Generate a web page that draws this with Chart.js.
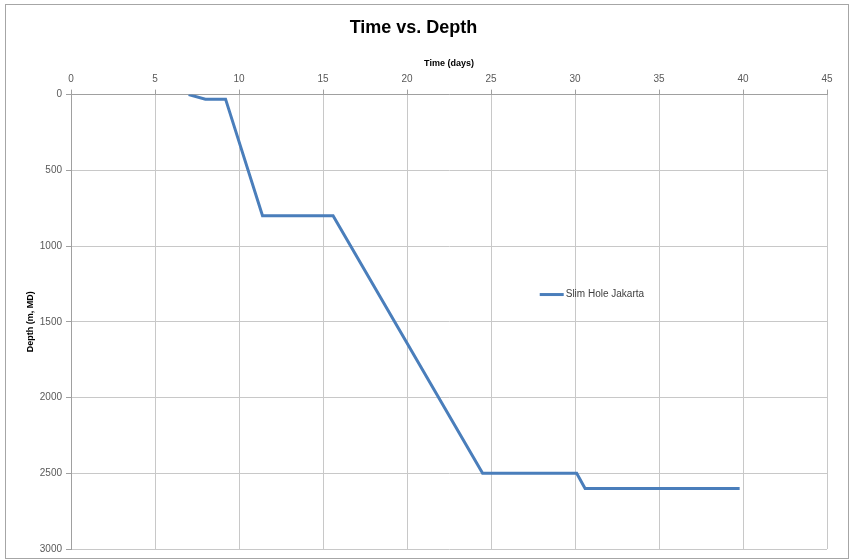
<!DOCTYPE html>
<html>
<head>
<meta charset="utf-8">
<script src="https://cdn.jsdelivr.net/npm/chart.js@4"></script>
<style>
    body { margin: 0; background: #fff; }
    #wrap { position: relative; width: 853px; height: 559px; }
    #frame {
        position: absolute; left: 5px; top: 4px; width: 842px; height: 553px;
        border: 1px solid #a6a6a6; pointer-events: none;
    }
</style>
</head>
<body>
<div id="wrap">
    <canvas id="depthChart" width="853" height="559"></canvas>
    <div id="frame"></div>
</div>
<script>
// Data
const timeDays = [7.0, 8.0, 9.2, 11.4, 15.6, 24.5, 30.1, 30.6, 39.8];
const depthM = [0, 30, 30, 800, 800, 2500, 2500, 2600, 2600];
const seriesName = "Slim Hole Jakarta";

const lineColor = "#4a7ebb";
const gridColor = "#c8c8c8";
const tickColor = "#595959";
const fontFamily = "'Liberation Sans', sans-serif";

// Legend drawn inside the plot area, like the Excel original
const innerLegend = {
    id: "innerLegend",
    afterDraw(chart) {
        const { ctx, chartArea } = chart;
        const x = chartArea.left + chartArea.width * 0.62;
        const y = chartArea.top + chartArea.height * 0.44;
        ctx.save();
        ctx.strokeStyle = lineColor;
        ctx.lineWidth = 3;
        ctx.beginPath();
        ctx.moveTo(x, y);
        ctx.lineTo(x + 24, y);
        ctx.stroke();
        ctx.fillStyle = "#404040";
        ctx.font = "10px " + fontFamily;
        ctx.textBaseline = "middle";
        ctx.fillText(seriesName, x + 26, y);
        ctx.restore();
    },
};

const ctx = document.getElementById("depthChart").getContext("2d");
new Chart(ctx, {
    type: "scatter",
    data: {
        datasets: [
            {
                label: seriesName,
                data: timeDays.map((t, i) => ({ x: t, y: depthM[i] })),
                showLine: true,
                borderColor: lineColor,
                backgroundColor: lineColor,
                borderWidth: 3,
                pointRadius: 0,
                tension: 0,
            },
        ],
    },
    options: {
        responsive: false,
        animation: false,
        layout: { padding: { left: 0, right: 26, top: 0, bottom: 3 } },
        plugins: {
            legend: { display: false },
            tooltip: { enabled: false },
            title: {
                display: true,
                text: "Time vs. Depth",
                color: "#000",
                font: { family: fontFamily, size: 18, weight: "bold" },
                padding: { top: 17, bottom: 6 },
            },
        },
        scales: {
            x: {
                type: "linear",
                position: "top",
                min: 0,
                max: 45,
                ticks: {
                    stepSize: 5,
                    color: tickColor,
                    font: { family: fontFamily, size: 10 },
                    padding: 4,
                    callback: (v) => String(v),
                },
                grid: {
                    color: gridColor,
                    tickColor: "#a0a0a0",
                    tickLength: 5,
                },
                border: { color: "#a0a0a0" },
                title: {
                    display: true,
                    text: "Time (days)",
                    color: "#000",
                    font: { family: fontFamily, size: 9, weight: "bold" },
                    padding: { top: 14, bottom: 2 },
                },
                afterFit(scale) {
                    scale.height = 50;
                },
            },
            y: {
                type: "linear",
                reverse: true,
                min: 0,
                max: 3000,
                ticks: {
                    stepSize: 500,
                    color: tickColor,
                    font: { family: fontFamily, size: 10 },
                    padding: 4,
                    callback: (v) => String(v),
                },
                grid: {
                    color: gridColor,
                    tickColor: "#a0a0a0",
                    tickLength: 5,
                },
                border: { color: "#a0a0a0" },
                title: {
                    display: true,
                    text: "Depth (m, MD)",
                    color: "#000",
                    font: { family: fontFamily, size: 9, weight: "bold" },
                    padding: { top: 25, bottom: 4 },
                },
                afterFit(scale) {
                    scale.width = 71;
                },
            },
        },
    },
    plugins: [innerLegend],
});
</script>
</body>
</html>
